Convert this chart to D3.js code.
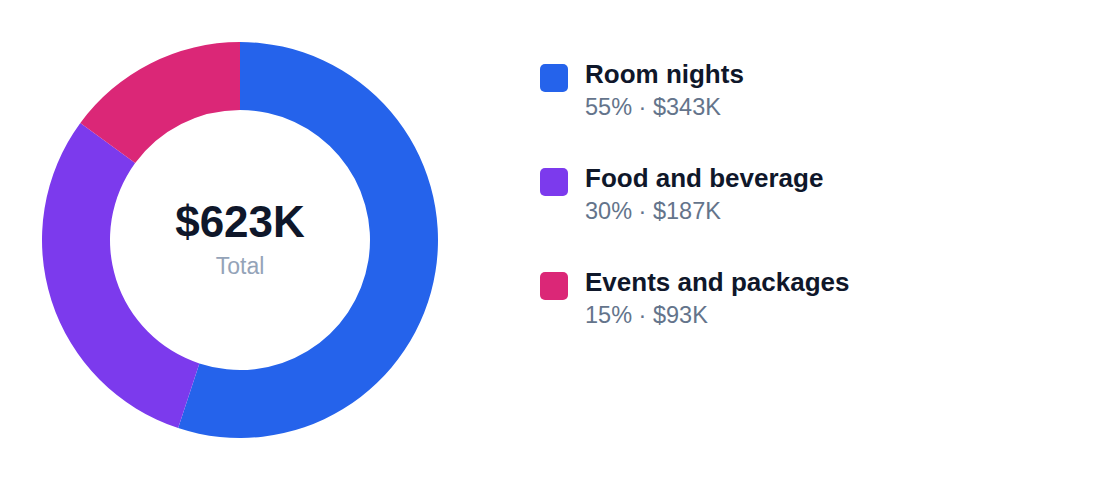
<!DOCTYPE html>
<html>
  <head>
    <meta charset="utf-8">
    <style>
      body { margin: 0; background: #fff; }
      svg { display: block; font-family: "Liberation Sans", Arial, Helvetica, sans-serif; }
    </style>
  </head>
  <body>
    <div class="chart-container"></div>
    <script src="https://cdn.jsdelivr.net/npm/d3@7"></script>
    <script>

var categories = ['Room nights', 'Food and beverage', 'Events and packages'];
var values = [343, 187, 93];          // $K
var shares = [55, 30, 15];            // % as labelled
var colors = ['#2563eb', '#7c3aed', '#db2777'];
var totalLabel = '$623K';

var width = 1120;
var height = 480;

var svg = d3.select('.chart-container').append('svg')
    .attr('width', width)
    .attr('height', height);

var data = categories.map(function (c, i) {
  return { name: c, value: values[i], share: shares[i], color: colors[i] };
});

// donut
var pie = d3.pie()
    .sort(null)
    .value(function (d) { return d.value; });

var arc = d3.arc()
    .innerRadius(130)
    .outerRadius(198);

var g = svg.append('g')
    .attr('transform', 'translate(240 240)');

g.selectAll('path')
  .data(pie(data))
  .enter().append('path')
    .attr('d', arc)
    .attr('fill', function (d) { return d.data.color; });

g.append('text')
  .attr('text-anchor', 'middle')
  .attr('y', -3)
  .attr('font-size', 44)
  .attr('font-weight', 700)
  .attr('fill', '#0f172a')
  .text(totalLabel);

g.append('text')
  .attr('text-anchor', 'middle')
  .attr('y', 34)
  .attr('font-size', 23)
  .attr('fill', '#94a3b8')
  .text('Total');

// legend
var legend = svg.append('g')
    .attr('transform', 'translate(540 64)');

var item = legend.selectAll('g')
  .data(data)
  .enter().append('g')
    .attr('transform', function (d, i) { return 'translate(0 ' + i * 104 + ')'; });

item.append('rect')
  .attr('width', 28)
  .attr('height', 28)
  .attr('rx', 5)
  .attr('fill', function (d) { return d.color; });

item.append('text')
  .attr('x', 45)
  .attr('y', 19)
  .attr('font-size', 26)
  .attr('font-weight', 700)
  .attr('fill', '#0f172a')
  .text(function (d) { return d.name; });

item.append('text')
  .attr('x', 45)
  .attr('y', 51)
  .attr('font-size', 23.5)
  .attr('fill', '#64748b')
  .text(function (d) { return d.share + '% \u00b7 $' + d.value + 'K'; });

    </script>
  </body>
</html>
